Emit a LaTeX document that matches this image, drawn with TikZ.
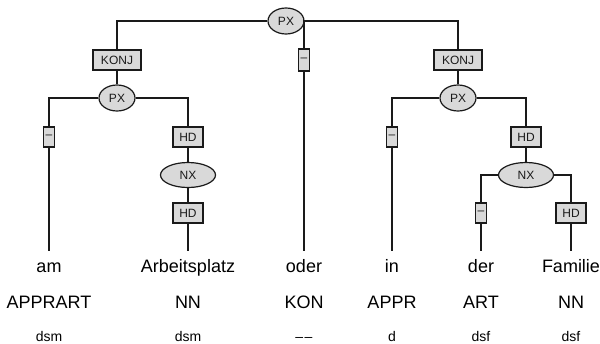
\documentclass[tikz,border=0pt]{standalone}
\usepackage{fontspec}
\setmainfont{Liberation Sans}
\usetikzlibrary{shapes.geometric}
\definecolor{nodefill}{HTML}{D9D9D9}
\definecolor{linec}{HTML}{1A1A1A}
\begin{document}
\begin{tikzpicture}[x=1pt,y=-1pt,
  edge/.style={draw=linec,line width=1.4pt},
  cat/.style={ellipse,draw=linec,line width=1.2pt,fill=nodefill,inner sep=0pt,
    minimum width=36pt,minimum height=26pt,text=linec,font=\fontsize{12}{12}\selectfont},
  catwide/.style={cat,minimum width=55pt,minimum height=25pt},
  fn/.style={rectangle,draw=linec,line width=1.2pt,fill=nodefill,inner sep=0pt,
    minimum height=20pt,text=linec,font=\fontsize{12}{12}\selectfont},
  konj/.style={fn,minimum width=48pt},
  hd/.style={fn,minimum width=30pt},
  nofn/.style={fn,minimum width=11pt},
  word/.style={anchor=base,font=\fontsize{18}{18}\selectfont,text height=13pt,
    text depth=4pt,inner xsep=0pt,inner ysep=8pt},
  postag/.style={anchor=base,font=\fontsize{18}{18}\selectfont,inner sep=0pt},
  morph/.style={anchor=base,font=\fontsize{14}{14}\selectfont,inner sep=0pt}]
\useasboundingbox (0,0) rectangle (600,343);

% top level
\node[cat] (px0) at (286,21) {PX};
\node[konj] (konjL) at (117,60) {KONJ};
\node[konj] (konjR) at (458,60) {KONJ};
\node[nofn,minimum height=22pt] (dashM) at (304,60) {–};

% left conjunct
\node[cat] (pxL) at (117,98) {PX};
\node[nofn] (dashL) at (49,137) {–};
\node[hd] (hdL1) at (188,137) {HD};
\node[catwide] (nxL) at (188,175) {NX};
\node[hd] (hdL2) at (188,213) {HD};

% right conjunct
\node[cat] (pxR) at (458,98) {PX};
\node[nofn] (dashR) at (392,137) {–};
\node[hd] (hdR1) at (526,137) {HD};
\node[catwide] (nxR) at (526,175) {NX};
\node[nofn] (dashR2) at (481,213) {–};
\node[hd] (hdR2) at (571,213) {HD};

% words
\node[word] (w1) at (49,272) {am};
\node[word] (w2) at (188,272) {Arbeitsplatz};
\node[word] (w3) at (304,272) {oder};
\node[word] (w4) at (392,272) {in};
\node[word] (w5) at (481,272) {der};
\node[word] (w6) at (571,272) {Familie};

\node[postag] (p1) at (49,308) {APPRART};
\node[postag] (p2) at (188,308) {NN};
\node[postag] (p3) at (304,308) {KON};
\node[postag] (p4) at (392,308) {APPR};
\node[postag] (p5) at (481,308) {ART};
\node[postag] (p6) at (571,308) {NN};

\node[morph] (m1) at (49,341) {dsm};
\node[morph] (m2) at (188,341) {dsm};
\node[morph] (m3) at (304,341) {–\hspace{1.5pt}–};
\node[morph] (m4) at (392,341) {d};
\node[morph] (m5) at (481,341) {dsf};
\node[morph] (m6) at (571,341) {dsf};

% connectors
\draw[edge] (px0) -| (konjL);
\draw[edge] (px0) -| (konjR);
\draw[edge] (px0.east) -| (dashM.north);
\draw[edge] (dashM) -- (w3);

\draw[edge] (konjL) -- (pxL);
\draw[edge] (pxL) -| (dashL);
\draw[edge] (pxL) -| (hdL1);
\draw[edge] (dashL) -- (w1);
\draw[edge] (hdL1) -- (nxL);
\draw[edge] (nxL) -- (hdL2);
\draw[edge] (hdL2) -- (w2);

\draw[edge] (konjR) -- (pxR);
\draw[edge] (pxR) -| (dashR);
\draw[edge] (pxR) -| (hdR1);
\draw[edge] (dashR) -- (w4);
\draw[edge] (hdR1) -- (nxR);
\draw[edge] (nxR) -| (dashR2);
\draw[edge] (nxR) -| (hdR2);
\draw[edge] (dashR2) -- (w5);
\draw[edge] (hdR2) -- (w6);
\end{tikzpicture}
\end{document}
